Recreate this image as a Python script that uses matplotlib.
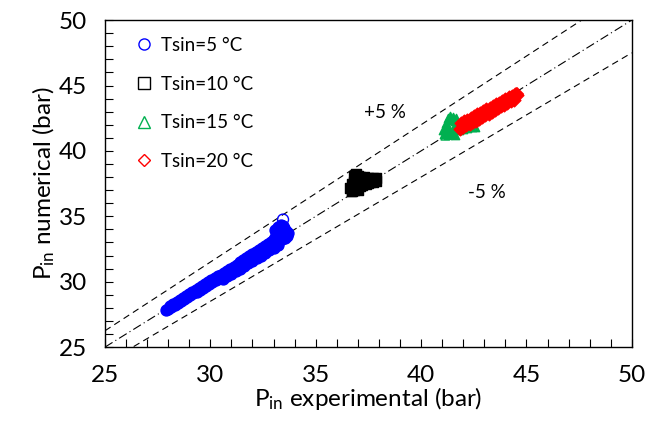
import matplotlib
matplotlib.use("Agg")
import matplotlib.pyplot as plt
from matplotlib.lines import Line2D
from matplotlib.ticker import MultipleLocator

plt.rcParams['font.family'] = ['Lato', 'DejaVu Sans']
plt.rcParams['mathtext.fontset'] = 'custom'
plt.rcParams['mathtext.rm'] = 'Lato'
plt.rcParams['mathtext.it'] = 'Lato:italic'

# Tsin = 5 °C
blue_x = [27.9, 28.0, 28.15, 28.3, 28.45, 28.6, 28.75, 28.9, 29.05, 29.2, 29.35, 29.5, 29.65,
          29.8, 29.95, 30.1, 30.25, 30.4, 30.55, 30.7, 30.85, 31.0, 31.15, 31.3, 31.45, 31.6,
          31.75, 31.9, 32.05, 32.2, 32.35, 32.5, 32.65, 32.8, 32.95, 33.1, 33.25, 33.4, 33.55, 33.65,
          28.1, 28.25, 28.4, 28.55, 28.7, 28.85, 29.0, 29.15, 29.3, 29.45, 29.6, 29.75, 29.9,
          30.05, 30.2, 30.35, 30.5, 30.65, 30.8, 30.95, 31.1, 31.25, 31.4, 31.55, 31.7, 31.85,
          32.0, 32.15, 32.3, 32.45, 32.6, 32.75, 32.9, 33.05, 33.2, 33.35, 33.5,
          30.6, 30.8, 31.0, 31.2, 31.4, 31.6, 31.8, 32.0, 32.2, 32.4, 32.6, 32.8, 33.0, 33.2,
          33.0, 33.1, 33.2, 33.3, 33.4, 33.5, 33.6, 33.2, 33.35, 33.45, 33.55, 33.7, 33.05]
blue_y = [27.85, 27.95, 28.05, 28.2, 28.35, 28.5, 28.65, 28.8, 28.95, 29.1, 29.25, 29.4, 29.55,
          29.7, 29.85, 30.0, 30.1, 30.25, 30.4, 30.55, 30.7, 30.85, 31.0, 31.15, 31.3, 31.45,
          31.6, 31.75, 31.9, 32.05, 32.2, 32.35, 32.5, 32.65, 32.8, 32.95, 33.1, 33.25, 33.35, 33.5,
          28.15, 28.3, 28.45, 28.6, 28.75, 28.9, 29.05, 29.2, 29.35, 29.5, 29.65, 29.8, 29.95,
          30.1, 30.25, 30.4, 30.55, 30.7, 30.85, 31.0, 31.15, 31.3, 31.5, 31.65, 31.8, 31.95,
          32.1, 32.25, 32.4, 32.55, 32.7, 32.85, 33.0, 33.15, 33.3, 33.45, 33.6,
          30.2, 30.4, 30.6, 30.8, 31.0, 31.2, 31.4, 31.6, 31.8, 32.0, 32.2, 32.4, 32.6, 32.8,
          33.3, 33.6, 33.9, 34.1, 34.2, 34.1, 33.9, 34.2, 34.3, 34.25, 33.9, 33.7, 33.95]

# Tsin = 10 °C
black_x = [36.7, 36.8, 36.9, 37.0, 36.7, 36.8, 36.9, 37.0, 36.8, 36.9, 37.1, 37.2,
           37.3, 37.4, 37.5, 37.6, 37.7, 37.85, 37.2, 37.4, 37.6, 37.85, 37.1, 37.3, 36.65,
           37.0, 37.5, 37.7]
black_y = [36.9, 37.0, 37.1, 37.0, 37.5, 37.6, 37.7, 37.8, 38.1, 38.25, 38.0, 37.8,
           37.6, 37.7, 37.9, 37.8, 37.6, 37.7, 37.4, 37.5, 37.6, 37.9, 37.3, 38.0, 37.2,
           38.1, 37.55, 37.95]

# Tsin = 15 °C
green_x = [41.1, 41.2, 41.3, 41.2, 41.4, 41.5, 41.3, 41.6, 41.7, 41.5, 41.4, 41.8,
           42.0, 42.2, 42.4, 42.55, 41.9, 41.6, 41.05, 41.35, 41.65]
green_y = [41.3, 41.5, 41.8, 42.1, 42.4, 42.6, 42.5, 42.3, 42.0, 41.7, 41.3, 41.6,
           41.7, 41.75, 41.8, 41.85, 42.2, 41.2, 41.6, 42.65, 42.55]

# Tsin = 20 °C
red_x = [41.85, 42.0, 42.15, 42.3, 42.45, 42.6, 42.75, 42.9, 43.05, 43.2, 43.35, 43.5, 43.65,
         43.8, 43.95, 44.1, 44.25, 44.4, 44.55,
         41.9, 42.05, 42.2, 42.35, 42.5, 42.65, 42.8, 42.95, 43.1, 43.25, 43.4, 43.55, 43.7,
         43.85, 44.0, 44.15, 44.3, 44.45]
red_y = [41.7, 41.8, 41.95, 42.05, 42.2, 42.3, 42.45, 42.6, 42.75, 42.85, 43.0, 43.1, 43.25,
         43.4, 43.5, 43.65, 43.8, 43.9, 44.25,
         42.1, 42.25, 42.4, 42.5, 42.65, 42.8, 42.9, 43.05, 43.2, 43.3, 43.45, 43.55, 43.7,
         43.85, 43.95, 44.1, 44.2, 44.35]

# open markers at cluster edges
blue_open = ([33.45], [34.75])
black_open = ([36.7], [36.9])
green_open = ([41.15, 41.3], [41.15, 41.2])
red_open = ([44.55], [44.35])

series_labels = ['Tsin=5 °C', 'Tsin=10 °C', 'Tsin=15 °C', 'Tsin=20 °C']
series_colors = ['#0000FF', '#000000', '#00B050', '#FF0000']
series_markers = ['o', 's', '^', 'D']

axis_lims = [25, 50]
band = [1.05, 0.95]

fig = plt.figure(figsize=(6.48, 4.28), dpi=100)
ax = fig.add_axes([0.162, 0.189, 0.813, 0.764])

line_x = axis_lims
ax.plot(line_x, line_x, color='black', lw=0.8, ls=(0, (8, 3, 1, 3)))
for f in band:
    ax.plot(line_x, [v * f for v in line_x], color='black', lw=0.8, ls=(0, (6, 4)))

data = [(blue_x, blue_y), (black_x, black_y), (green_x, green_y), (red_x, red_y)]
opens = [blue_open, black_open, green_open, red_open]
sizes = [62, 50, 36, 42]
for (xs, ys), (ox, oy), c, m, s in zip(data, opens, series_colors, series_markers, sizes):
    ax.scatter(xs, ys, s=s, marker=m, facecolor=c, edgecolor=c, linewidth=1, zorder=3)
    ax.scatter(ox, oy, s=s, marker=m, facecolor='none', edgecolor=c, linewidth=1, zorder=2)

handles = [Line2D([], [], ls='none', marker=m, markersize=m == 'D' and 6.5 or 8,
                  markerfacecolor='none', markeredgecolor=c, markeredgewidth=1)
           for m, c in zip(series_markers, series_colors)]
ax.legend(handles, series_labels, loc='upper left', bbox_to_anchor=(0.014, 1.0),
          frameon=False, fontsize=13.5, handletextpad=0.1, labelspacing=1.15,
          borderaxespad=0.5, handlelength=1.6)

ax.text(38.3, 42.95, '+5 %', fontsize=13.5, ha='center', va='center')
ax.text(43.1, 36.8, '-5 %', fontsize=13.5, ha='center', va='center')

ax.set_xlim(axis_lims)
ax.set_ylim(axis_lims)
ax.xaxis.set_major_locator(MultipleLocator(5))
ax.yaxis.set_major_locator(MultipleLocator(5))
ax.xaxis.set_minor_locator(MultipleLocator(1))
ax.yaxis.set_minor_locator(MultipleLocator(1))
ax.tick_params(which='both', direction='in', length=6, width=0.8, top=False, right=False,
               labelsize=17.5, pad=13)
for sp in ax.spines.values():
    sp.set_linewidth(1.0)

ax.set_xlabel(r'P$_{\mathrm{in}}$ experimental (bar)', fontsize=17.5, labelpad=-1)
ax.set_ylabel(r'P$_{\mathrm{in}}$ numerical (bar)', fontsize=17.5, labelpad=1)

fig.savefig('out.png', dpi=100)
